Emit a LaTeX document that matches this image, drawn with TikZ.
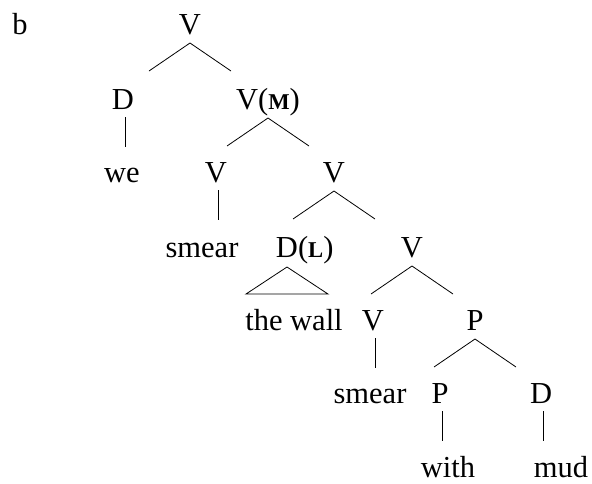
\documentclass[tikz,border=0pt]{standalone}
\usepackage{fontspec}
\setmainfont{Liberation Serif}
\usetikzlibrary{calc}
\newcommand{\feat}[1]{{\fontsize{11.3}{12}\selectfont\bfseries #1}}
\begin{document}
\begin{tikzpicture}[x=0.5pt,y=-0.5pt,
  every node/.style={anchor=base,inner sep=0pt,font=\fontsize{15.25}{18}\selectfont},
  branch/.style={to path={let \p1=(\tikztostart.base), \p2=(\tikztotarget.base) in
    ({\x1},{\y1-4.5pt}) -- ++({ifthenelse(\x2>\x1,20.5pt,-20.5pt)},-14pt)}},
  stem/.style={to path={let \p1=(\tikztostart.base) in
    ({\x1+1pt},{\y1-4pt}) -- ++(0,-15pt)}},
  roof/.style={to path={let \p1=(\tikztostart.base) in
    ({\x1},{\y1-5pt}) -- ++(-20.5pt,-13.5pt) -- ++(41pt,0) -- cycle}}]

\useasboundingbox (0,0) rectangle (592,483);

\node (lbl) at (20,34) {b};

\node (top) at (190,34) {V};

\node (d) at (123,109) {D};
\node (vm) at (268,109) {V(\feat{M})};

\node (we) at (122,182) {we};
\node (v) at (216,182) {V};
\node (vv) at (334,182) {V};

\node (smear) at (202,257) {smear};
\node (dl) at (287,257) {D\rlap{(\feat{L})}};
\node (vvv) at (412,257) {V};

\node (wall) at (294,330) {the wall};
\node (vs) at (373,330) {V};
\node (pp) at (475,330) {P};

\node (smear2) at (370,403) {smear};
\node (p) at (440,403) {P};
\node (dm) at (541,403) {D};

\node (with) at (448,477) {with};
\node (mud) at (561,477) {mud};

\draw (top) to[branch] (d);
\draw (top) to[branch] (vm);
\draw (d) to[stem] (we);
\draw (vm) to[branch] (v);
\draw (vm) to[branch] (vv);
\draw (v) to[stem] (smear);
\draw (vv) to[branch] (dl);
\draw (vv) to[branch] (vvv);
\draw (dl) to[roof] (wall);
\draw (vvv) to[branch] (vs);
\draw (vvv) to[branch] (pp);
\draw (vs) to[stem] (smear2);
\draw (pp) to[branch] (p);
\draw (pp) to[branch] (dm);
\draw (p) to[stem] (with);
\draw (dm) to[stem] (mud);

\end{tikzpicture}
\end{document}
